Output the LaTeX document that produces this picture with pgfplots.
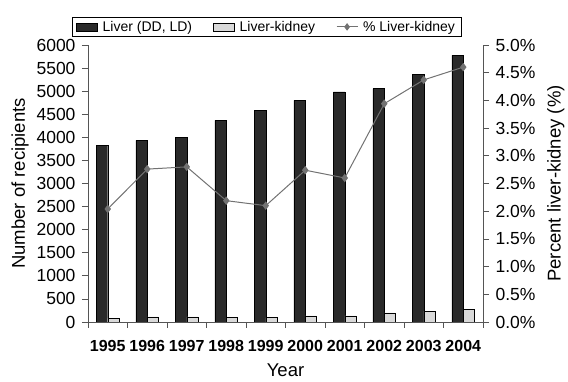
\documentclass[border=0pt]{standalone}
\usepackage{fontspec}
\setmainfont{Liberation Sans}
\usepackage{pgfplots}
\usepackage{pgfplotstable}
\pgfplotsset{compat=1.18}
\definecolor{darkbar}{HTML}{2A2A2A}
\definecolor{lightbar}{HTML}{D9D9D9}
\definecolor{linegray}{HTML}{727272}
\definecolor{axisgray}{HTML}{555555}
\pgfplotsset{mylineleg/.style={legend image code/.code={\draw[##1] (0bp,0bp) -- (21bp,0bp); \draw[##1] plot coordinates {(10.5bp,0bp)};}}}
\pgfplotstableread{
x liver lk pct
0 3828 78 2.04
1 3935 109 2.76
2 4007 112 2.80
3 4369 96 2.19
4 4592 96 2.10
5 4802 132 2.74
6 4982 130 2.60
7 5054 199 3.94
8 5365 234 4.37
9 5777 266 4.60
}\data
\begin{document}
\begin{tikzpicture}
\useasboundingbox (-88bp,-60bp) rectangle (480bp,322bp);
\begin{axis}[
  scale only axis, width=395bp, height=277bp,
  at={(0,0)}, anchor=south west,
  xmin=-0.5, xmax=9.5, ymin=0, ymax=6000,
  axis x line*=bottom, axis y line*=left,
  axis line style={axisgray, line width=0.8pt},
  tick style={axisgray, line width=0.8pt},
  tick align=outside, major tick length=6bp,
  xtick={-0.5,0.5,...,9.5},
  x tick label as interval,
  xticklabels={1995,1996,1997,1998,1999,2000,2001,2002,2003,2004},
  xticklabel style={font=\bfseries\fontsize{16bp}{19bp}\selectfont, yshift=-9bp},
  ytick={0,500,...,6000},
  yticklabel style={font=\fontsize{17.5bp}{20bp}\selectfont, xshift=-3bp},
  /pgf/number format/assume math mode=true,
  /pgf/number format/1000 sep={},
  xlabel={Year}, ylabel={Number of recipients},
  label style={font=\fontsize{18.5bp}{21bp}\selectfont},
  xlabel style={yshift=-5bp},
  ylabel style={yshift=1bp},
  legend columns=3,
  legend style={at={(0.452,1.0)}, anchor=south, yshift=8bp, draw=black, line width=0.6pt,
    font=\fontsize{14bp}{16bp}\selectfont, column sep=3bp, inner xsep=4bp, inner ysep=2bp,
    /tikz/every even column/.append style={column sep=19bp}},
]
\addplot[ybar, bar width=0.29, bar shift=-0.145, fill=darkbar, draw=black, line width=0.5pt,
  legend image code/.code={\draw[fill=darkbar,draw=black] (0bp,-4bp) rectangle (21bp,4bp);}]
  table[x=x,y=liver]{\data};
\addlegendentry{Liver (DD, LD)}
\addplot[ybar, bar width=0.29, bar shift=0.145, fill=lightbar, draw=black, line width=0.5pt,
  legend image code/.code={\draw[fill=lightbar,draw=black] (0bp,-4bp) rectangle (21bp,4bp);}]
  table[x=x,y=lk]{\data};
\addlegendentry{Liver-kidney}
\addlegendimage{linegray, line width=1pt, mark=diamond*, mark size=3bp, mark options={fill=linegray}, mylineleg}
\addlegendentry{\% Liver-kidney}
\end{axis}
\begin{axis}[
  scale only axis, width=395bp, height=277bp,
  at={(0,0)}, anchor=south west,
  xmin=-0.5, xmax=9.5, ymin=0, ymax=5,
  axis y line*=right, axis x line=none,
  axis line style={axisgray, line width=0.8pt},
  tick style={axisgray, line width=0.8pt},
  tick align=outside, major tick length=6bp,
  ytick={0,0.5,...,5},
  /pgf/number format/assume math mode=true,
  yticklabel={\pgfmathprintnumber[fixed,fixed zerofill,precision=1]{\tick}\%},
  yticklabel style={font=\fontsize{17.5bp}{20bp}\selectfont, xshift=3bp},
  ylabel={Percent liver-kidney (\%)},
  label style={font=\fontsize{18.5bp}{21bp}\selectfont},
  ylabel style={yshift=-5bp},
]
\addplot[linegray, line width=1pt, mark=diamond*, mark size=3.5bp, mark options={fill=linegray}]
  table[x=x,y=pct]{\data};
\end{axis}
\end{tikzpicture}
\end{document}
